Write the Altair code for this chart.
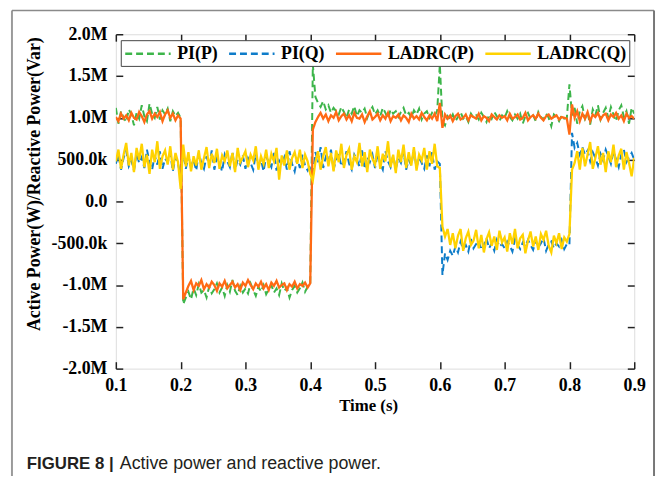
import altair as alt
import pandas as pd

# ---------------- data (values in k units: kW / kVar) ----------------
series_names = ["PI(P)", "PI(Q)", "LADRC(P)", "LADRC(Q)"]
series_colors = ["#3DB54A", "#0E7CC9", "#FF6A14", "#FFD200"]
series_dashes = [[7, 4], [7, 4], [1, 0], [1, 0]]

t_start = 0.1
t_step = 0.004

pi_p = [
    1120, 930, 1080, 1000, 950, 1100, 1040, 910, 1060, 990,
    1150, 1020, 960, 1170, 1050, 1000, 1130, 980, 1090, 1040,
    1110, 960, 1080, 1020, 1060, 1000, -1230, -1150, -1080, -1170,
    -1040, -1120, -990, -1090, -1060, -1150, -1020, -1100, -1050, -980,
    -1090, -1030, -1130, -1000, -1080, -940, -1070, -1120, -1010, -1090,
    -1040, -1100, -980, -1060, -1130, -1020, -1080, -1000, -1110, -1050,
    -1000, -1090, -1040, -1120, -980, -1070, -1030, -1150, -1060, -1010,
    -1090, -1040, -970, -1080, -1020, -1000, 1640, 1250, 1180, 1130,
    1200, 1100, 1150, 1060, 1120, 1080, 1040, 1130, 1070, 1000,
    1100, 1050, 1140, 1020, 1090, 1060, 1110, 1000, 1080, 1130,
    1040, 1090, 1020, 1120, 1060, 990, 1100, 1050, 1080, 1010,
    1070, 1120, 1030, 1060, 1000, 1090, 1040, 1110, 980, 1050,
    1080, 1000, 1060, 1020, 1090, 1640, 960, 910, 1020, 980,
    1040, 960, 1010, 1070, 990, 1020, 950, 1050, 1000, 1030,
    980, 1060, 1010, 950, 1040, 990, 1070, 1020, 960, 1030,
    1000, 1080, 1010, 970, 1040, 990, 1050, 930, 1020, 1060,
    990, 1030, 960, 1070, 1010, 980, 1050, 1000, 900, 1040,
    1010, 960, 1030, 990, 1000, 1400, 1030, 1120, 930, 1080,
    1140, 990, 1060, 920, 1100, 1030, 1150, 980, 1060, 1120,
    1000, 1130, 1040, 960, 1090, 1150, 1010, 1080, 930, 1120,
    1050,
]

pi_q = [
    450, 560, 380, 520, 610, 420, 490, 370, 580, 460,
    530, 400, 620, 470, 380, 550, 440, 600, 390, 510,
    470, 580, 360, 530, 450, 300, 600, 390, 540, 420,
    500, 370, 580, 460, 390, 540, 430, 610, 380, 520,
    450, 360, 560, 480, 410, 590, 370, 500, 440, 550,
    390, 520, 460, 380, 570, 430, 500, 360, 540, 470,
    410, 580, 370, 490, 440, 530, 380, 600, 450, 360,
    520, 400, 560, 430, 370, 440, 300, 590, 470, 650,
    400, 530, 460, 620, 380, 510, 570, 420, 480, 600,
    450, 380, 560, 500, 420, 610, 390, 530, 470, 560,
    400, 570, 450, 380, 600, 480, 410, 550, 390, 520,
    460, 590, 380, 500, 430, 620, 400, 530, 460, 390,
    550, 420, 590, 380, 480, 450, -880, -620, -700, -590,
    -650, -540, -610, -480, -570, -520, -600, -450, -560, -510,
    -470, -580, -520, -440, -560, -500, -590, -460, -540, -510,
    -560, -480, -530, -600, -450, -520, -570, -490, -540, -460,
    -520, -580, -470, -550, -500, -440, -590, -510, -480, -560,
    -500, -540, -460, -570, -510, -520, 820, 640, 700, 560,
    650, 560, 610, 480, 590, 520, 430, 570, 490, 620,
    540, 450, 600, 500, 410, 560, 620, 470, 530, 580,
    500,
]

ladrc_p = [
    1010, 960, 1050, 990, 1030, 970, 1060, 1000, 980, 1070,
    1020, 950, 1040, 1080, 990, 1050, 1010, 1070, 960, 1040,
    1090, 1000, 1050, 970, 1030, 990, -1170, -1090, -1010, -950,
    -1060, -980, -1010, -940, -1050, -990, -1030, -960, -1000, -1070,
    -980, -1020, -950, -1040, -1000, -960, -1030, -990, -1060, -970,
    -1010, -940, -1000, -1050, -980, -1020, -960, -1040, -990, -1060,
    -970, -1010, -950, -1030, -1000, -980, -1060, -990, -1020, -960,
    -1040, -990, -1010, -970, -1030, -980, 860, 950, 1010, 1060,
    990, 1040, 960, 1030, 1000, 1070, 970, 1020, 1050, 980,
    1030, 960, 1060, 1000, 990, 1040, 950, 1020, 1080, 980,
    1010, 1050, 970, 1030, 990, 1060, 960, 1020, 1000, 1040,
    970, 1030, 1000, 950, 1050, 990, 1020, 980, 1060, 1010,
    970, 1030, 990, 1050, 960, 1180, 880, 1040, 990, 1030,
    960, 1020, 1050, 980, 1000, 1040, 970, 1030, 1010, 990,
    1050, 970, 1020, 1000, 960, 1040, 1010, 980, 1030, 1000,
    1020, 970, 1050, 990, 1010, 1040, 980, 1000, 1060, 970,
    1010, 1030, 990, 1050, 1000, 970, 1020, 1040, 990, 1010,
    1030, 980, 1010, 1000, 990, 800, 1160, 1000, 1080, 960,
    1050, 990, 1070, 960, 1040, 1010, 1060, 980, 1030, 1050,
    970, 1040, 1010, 1060, 990, 1030, 960, 1050, 1000, 1020,
    990,
]

ladrc_q = [
    480, 620, 390, 560, 700, 430, 580, 350, 640, 500,
    690, 410, 560, 330, 620, 470, 720, 390, 540, 610,
    440, 660, 380, 580, 470, 150, 680, 420, 590, 360,
    540, 430, 610, 380, 520, 650, 400, 570, 460, 630,
    390, 550, 480, 610, 420, 580, 350, 640, 470, 530,
    600, 410, 560, 490, 660, 380, 540, 450, 620, 400,
    570, 480, 640, 260, 550, 430, 610, 380, 520, 590,
    450, 620, 400, 560, 480, 330, 250, 470, 600, 380,
    540, 650, 420, 580, 360, 610, 470, 690, 400, 560,
    630, 380, 540, 470, 700, 420, 590, 350, 620, 510,
    440, 660, 390, 570, 480, 720, 410, 560, 340, 620,
    470, 680, 400, 590, 430, 650, 370, 560, 490, 640,
    380, 600, 450, 690, 420, 400, -300, -420, -330, -520,
    -380, -560, -410, -330, -590, -440, -360, -520, -470, -340,
    -560, -400, -610, -450, -370, -530, -420, -580, -350, -490,
    -430, -600, -380, -510, -330, -560, -440, -400, -620, -470,
    -360, -540, -420, -580, -390, -460, -350, -530, -610, -410,
    -500, -380, -570, -430, -480, -390, 380, 460, 600, 380,
    640, 420, 560, 710, 390, 520, 660, 440, 580, 350,
    600, 470, 680, 410, 550, 630, 380, 590, 460, 300,
    520,
]

x_ticks = [0.1, 0.2, 0.3, 0.4, 0.5, 0.6, 0.7, 0.8, 0.9]
y_ticks = [-2000, -1500, -1000, -500, 0, 500, 1000, 1500, 2000]

x_title = "Time (s)"
y_title = "Active Power(W)/Reactive Power(Var)"
caption_bold = "FIGURE 8 |"
caption_text = "Active power and reactive power."

# ---------------- table ----------------
rows = []
for name, vals in zip(series_names, [pi_p, pi_q, ladrc_p, ladrc_q]):
    for i, v in enumerate(vals):
        rows.append({"t": round(t_start + t_step * i, 4), "v": v, "series": name})
df = pd.DataFrame(rows)

SERIF = "Liberation Serif"
SANS = "Liberation Sans"

xscale = alt.Scale(domain=[0.1, 0.9], nice=False, zero=False)
yscale = alt.Scale(domain=[-2000, 2000], nice=False, zero=False)

y_label_expr = (
    "datum.value == 0 ? '0.0' : (datum.value < 0 ? '-' : '') + "
    "(abs(datum.value) >= 1000 ? format(abs(datum.value) / 1000, '.1f') + 'M' "
    ": format(abs(datum.value), '.1f') + 'k')"
)

common_axis = dict(
    grid=False, domain=False, tickSize=7, tickWidth=1.5, tickColor="#222",
    offset=-7,
)

x_bottom = alt.Axis(
    values=x_ticks, format=".1f", orient="bottom", title=x_title,
    labelFont=SERIF, labelFontWeight="bold", labelFontSize=18, labelColor="black",
    labelPadding=8, labelFlush=False, titleFont=SERIF, titleFontWeight="bold",
    titleFontSize=17, titleColor="black", titlePadding=3, titleX=255, **common_axis,
)
y_left = alt.Axis(
    values=y_ticks, labelExpr=y_label_expr, orient="left", title=y_title,
    labelFont=SERIF, labelFontWeight="bold", labelFontSize=18, labelColor="black",
    labelPadding=9, labelFlush=False, titleFont=SERIF, titleFontWeight="bold",
    titleFontSize=18, titleColor="black", titlePadding=8, titleY=151, **common_axis,
)
x_top = alt.Axis(values=x_ticks, orient="top", labels=False, title=None, **common_axis)
y_right = alt.Axis(values=y_ticks, orient="right", labels=False, title=None, **common_axis)

# wide legend stroke drawn as a custom path: unit space is sqrt(size)/2 = 9 px
legend = alt.Legend(
    orient="none", legendX=5, legendY=6, direction="horizontal", columns=4,
    title=None, symbolType="M-1,0H4.1", symbolSize=324, symbolStrokeWidth=2.5,
    labelFont=SERIF, labelFontWeight="bold", labelFontSize=18, labelColor="black",
    labelOffset=33, columnPadding=6, padding=3, strokeColor="#444",
    fillColor="white", labelLimit=200,
)

color = alt.Color("series:N", scale=alt.Scale(domain=series_names, range=series_colors), legend=legend)
dash = alt.StrokeDash("series:N", scale=alt.Scale(domain=series_names, range=series_dashes), legend=legend)


def line_layer(name, xaxis, yaxis, width):
    return (
        alt.Chart(df)
        .transform_filter(alt.datum.series == name)
        .mark_line(strokeWidth=width, clip=True)
        .encode(
            x=alt.X("t:Q", scale=xscale, axis=xaxis),
            y=alt.Y("v:Q", scale=yscale, axis=yaxis),
            color=color,
            strokeDash=dash,
        )
    )


lines = [
    line_layer("PI(P)", x_bottom, y_left, 2),
    line_layer("PI(Q)", x_top, y_right, 2),
    line_layer("LADRC(P)", None, None, 2.3),
    line_layer("LADRC(Q)", None, None, 2.3),
]

one = pd.DataFrame({"k": [0]})
frame_left = alt.Chart(one).mark_rule(color="#9a9a9a", strokeWidth=2).encode(
    x=alt.value(-105), y=alt.value(-24), y2=alt.value(480))
frame_top = alt.Chart(one).mark_rule(color="#8a8a8a", strokeWidth=1.5).encode(
    x=alt.value(-105), x2=alt.value(544), y=alt.value(-24))
frame_right = alt.Chart(one).mark_rule(color="#777777", strokeWidth=2).encode(
    x=alt.value(544), y=alt.value(-24), y2=alt.value(480))

cap_df = pd.DataFrame({"bold": [caption_bold], "text": [caption_text]})
cap1 = alt.Chart(cap_df).mark_text(
    align="left", baseline="alphabetic", font=SANS, fontWeight="bold",
    fontSize=17, color="#231f20").encode(
    x=alt.value(-90), y=alt.value(439), text="bold:N")
cap2 = alt.Chart(cap_df).mark_text(
    align="left", baseline="alphabetic", font=SANS, fontWeight="normal",
    fontSize=18, color="#231f20").encode(
    x=alt.value(4), y=alt.value(439), text="text:N")

chart = (
    alt.layer(frame_left, frame_top, frame_right, *lines, cap1, cap2)
    .resolve_axis(x="independent", y="independent")
    .properties(
        width=524, height=338,
        padding={"left": 109, "top": 24, "right": 22, "bottom": 106},
        autosize=alt.AutoSizeParams(type="none"),
    )
    .configure_view(stroke="#222", strokeWidth=1.5)
    .configure(background="white")
)

chart.save("out.html", embed_options={"renderer": "svg", "actions": False})
